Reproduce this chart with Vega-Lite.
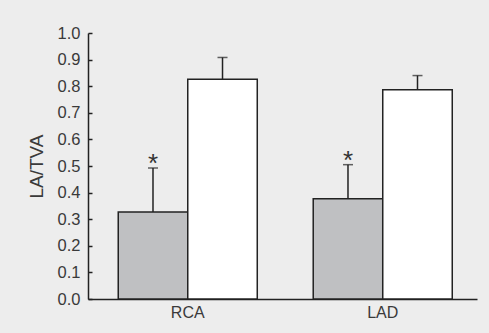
{
  "$schema": "https://vega.github.io/schema/vega-lite/v6.json",
  "width": 389,
  "height": 266,
  "autosize": {"type": "none"},
  "padding": {"left": 88, "top": 33, "right": 12, "bottom": 34},
  "background": "#ededed",
  "config": {
    "view": {"stroke": null},
    "font": "Liberation Sans",
    "axis": {"labelFont": "Liberation Sans", "titleFont": "Liberation Sans", "labelColor": "#3a3a3a", "titleColor": "#3a3a3a", "domainColor": "#222222", "tickColor": "#222222", "domainWidth": 1.5, "tickWidth": 1.5, "grid": false}
  },
  "data": {
    "values": [
      {"artery": "RCA", "group": "A", "mean": 0.327, "upper": 0.4925, "sig": "*"},
      {"artery": "RCA", "group": "B", "mean": 0.826, "upper": 0.908, "sig": ""},
      {"artery": "LAD", "group": "A", "mean": 0.377, "upper": 0.505, "sig": "*"},
      {"artery": "LAD", "group": "B", "mean": 0.787, "upper": 0.84, "sig": ""}
    ]
  },
  "encoding": {
    "x": {
      "field": "artery", "type": "nominal", "sort": ["RCA", "LAD"],
      "scale": {"paddingInner": 0.287, "paddingOuter": 0.141, "align": 0.55},
      "axis": {"title": null, "labelAngle": 0, "ticks": false, "labelFontSize": 16, "labelPadding": 5}
    },
    "xOffset": {"field": "group", "type": "nominal", "scale": {"paddingInner": 0, "paddingOuter": 0}}
  },
  "layer": [
    {
      "mark": {"type": "rule", "color": "#222222", "strokeWidth": 1.5},
      "encoding": {
        "y": {
          "field": "mean", "type": "quantitative",
          "scale": {"domain": [0, 1], "nice": false},
          "axis": {"title": "LA/TVA", "titleFontSize": 19, "titleFontWeight": "normal", "titlePadding": 11, "labelFontSize": 16.5, "format": ".1f", "values": [0, 0.1, 0.2, 0.3, 0.4, 0.5, 0.6, 0.7, 0.8, 0.9, 1.0], "tickCount": 20, "labelOverlap": false, "tickSize": -4, "labelPadding": 12}
        },
        "y2": {"field": "upper"}
      }
    },
    {
      "mark": {"type": "tick", "color": "#222222", "thickness": 1.5, "size": 10},
      "encoding": {
        "y": {"field": "upper", "type": "quantitative"}
      }
    },
    {
      "mark": {"type": "bar", "stroke": "#222222", "strokeWidth": 1.5},
      "encoding": {
        "y": {"field": "mean", "type": "quantitative"},
        "fill": {"field": "group", "type": "nominal", "scale": {"domain": ["A", "B"], "range": ["#bfc0c2", "#ffffff"]}, "legend": null}
      }
    },
    {
      "mark": {"type": "text", "font": "Liberation Sans", "fontSize": 26, "color": "#333333", "baseline": "alphabetic", "dy": 4},
      "encoding": {
        "y": {"field": "upper", "type": "quantitative"},
        "text": {"field": "sig"}
      }
    }
  ]
}
